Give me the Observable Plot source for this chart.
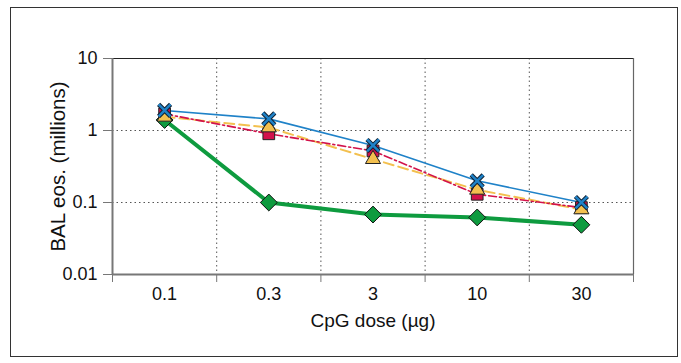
<!DOCTYPE html>
<html>
<head>
<meta charset="utf-8">
<script src="https://cdn.jsdelivr.net/npm/d3@7"></script>
<script src="https://cdn.jsdelivr.net/npm/@observablehq/plot@0.6"></script>
<style>
  html, body { margin: 0; padding: 0; background: #fff; }
  #wrap { position: relative; width: 681px; height: 363px; overflow: hidden; }
  #border { position: absolute; left: 10px; top: 7px; width: 666px; height: 348px; border: 1.5px solid #333; }
  #chart { position: absolute; left: 0; top: 0; }
  svg { font-family: "Liberation Sans", Arial, sans-serif; }
</style>
</head>
<body>
<div id="wrap"><div id="border"></div><div id="chart"></div></div>
<script>
const doses = ["0.1", "0.3", "3", "10", "30"];
const yTicks = [0.01, 0.1, 1, 10];
const yTickLabels = ["0.01", "0.1", "1", "10"];

const seriesBlue   = [1.9, 1.45, 0.62, 0.2, 0.1];
const seriesRed    = [1.7, 0.9, 0.52, 0.13, 0.085];
const seriesYellow = [1.55, 1.1, 0.4, 0.15, 0.08];
const seriesGreen  = [1.4, 0.1, 0.068, 0.062, 0.049];

const toRows = (vals) => vals.map((v, i) => ({x: i + 0.5, y: v}));
const blue = toRows(seriesBlue), red = toRows(seriesRed), yellow = toRows(seriesYellow), green = toRows(seriesGreen);

const C = {blue: "#1f82c8", red: "#d2124b", yellow: "#f3c04f", green: "#0e9b3f"};
const dotted = {stroke: "#555", strokeWidth: 1, strokeDasharray: "1.5,3"};

const plot = Plot.plot({
  width: 681, height: 363,
  marginLeft: 112, marginRight: 48, marginTop: 58, marginBottom: 89,
  style: {fontSize: "18px", color: "#111", background: "transparent"},
  x: {type: "linear", domain: [0, doses.length]},
  y: {type: "log", domain: [0.01, 10]},
  marks: [
    Plot.ruleY([0.1, 1], dotted),
    Plot.ruleX([1, 2, 3, 4], dotted),
    Plot.ruleY([10], {stroke: "#222", strokeWidth: 1}),
    Plot.ruleX([5], {stroke: "#666", strokeWidth: 1.2}),
    Plot.axisY({ticks: yTicks, tickFormat: (d) => yTickLabels[yTicks.indexOf(d)], tickSize: 9, tickPadding: 6, stroke: "#777",
      label: null, fontSize: 18}),
    Plot.axisY({ticks: [], label: "BAL eos. (millions)", labelAnchor: "center", labelArrow: "none", labelOffset: 62, fontSize: 20.5}),
    Plot.axisX({ticks: d3.range(doses.length + 1), tickFormat: () => "", tickSize: 8, stroke: "#777", label: null}),
    Plot.axisX({ticks: doses.map((d, i) => i + 0.5), tickFormat: (d) => doses[Math.floor(d)], tickSize: 0, tickPadding: 13, label: null, fontSize: 18}),
    Plot.axisX({ticks: [], label: "CpG dose (µg)", labelAnchor: "center", labelArrow: "none", labelOffset: 52, fontSize: 19}),
    Plot.ruleX([0], {stroke: "#777", strokeWidth: 2, y1: 10, y2: 0.01}),
    Plot.ruleY([0.01], {stroke: "#777", strokeWidth: 2}),
    Plot.line(green, {x: "x", y: "y", stroke: C.green, strokeWidth: 4}),
    Plot.line(yellow, {x: "x", y: "y", stroke: C.yellow, strokeWidth: 2, strokeDasharray: "10,5"}),
    Plot.line(red, {x: "x", y: "y", stroke: C.red, strokeWidth: 1.6, strokeDasharray: "8,3,2,3"}),
    Plot.line(blue, {x: "x", y: "y", stroke: C.blue, strokeWidth: 1.6}),
    Plot.dot(green, {x: "x", y: "y", symbol: "diamond2", r: 7.6, fill: C.green, stroke: "#111", strokeWidth: 1}),
    Plot.dot(red, {x: "x", y: "y", symbol: "square", r: 6.6, fill: C.red, stroke: "#222", strokeWidth: 1}),
    Plot.dot(yellow, {x: "x", y: "y", symbol: "triangle", r: 5.6, fill: C.yellow, stroke: "#222", strokeWidth: 1}),
    Plot.dot(blue, {x: "x", y: "y", symbol: "times", r: 5.5, stroke: "#123", strokeWidth: 4.5}),
    Plot.dot(blue, {x: "x", y: "y", symbol: "times", r: 5.5, stroke: C.blue, strokeWidth: 2.5})
  ]
});
document.getElementById("chart").appendChild(plot);
</script>
</body>
</html>
